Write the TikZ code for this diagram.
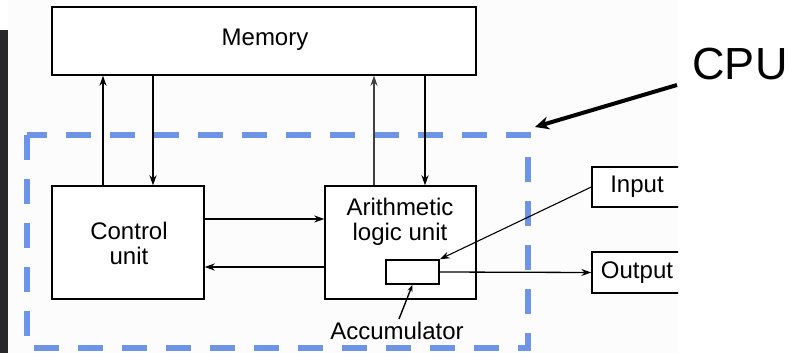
\documentclass[tikz,border=0pt]{standalone}
\usepackage{fontspec}
\setmainfont{Liberation Sans}
\usetikzlibrary{arrows.meta}
\definecolor{cpublue}{RGB}{110,148,232}
\definecolor{scanbg}{RGB}{252,252,252}
\definecolor{strip}{RGB}{40,40,42}
\begin{document}
\begin{tikzpicture}[x=1pt,y=-1pt,
  blk/.style={draw=black,line width=1.4pt,inner sep=0pt,fill=white},
  lbl/.style={font=\fontsize{24}{25}\selectfont,align=center,inner sep=0pt},
  conn/.style={line width=1.3pt,-{Stealth[length=10pt,width=7pt]}},
  cpubox/.style={draw=cpublue,line width=6pt,dash pattern=on 25pt off 19pt}
]
\useasboundingbox (0,0) rectangle (804,353);
\fill[white] (0,0) rectangle (804,353);
\fill[scanbg] (8,0) rectangle (678,353);
\fill[strip] (0,30) rectangle (8,353);

% boxes
\node[blk,minimum width=424pt,minimum height=68pt] (mem) at (264,41) {};
\node[lbl] (memtxt) at (265,40) {Memory};
\node[blk,minimum width=152pt,minimum height=113pt] (cu) at (128,242.5) {};
\node[lbl] (cutxt) at (129,243) {Control\\unit};
\node[blk,minimum width=151pt,minimum height=113pt] (alu) at (400.5,242.5) {};
\node[lbl] (alutxt) at (400,222) {Arithmetic\\logic unit};
\node[blk,minimum width=53pt,minimum height=24pt] (acc) at (412.5,272) {};
\node[lbl] (acctxt) at (397,331) {Accumulator};

\begin{scope}
\clip (0,0) rectangle (678,353);
\node[blk,minimum width=92pt,minimum height=40pt] (in) at (638,187) {};
\node[lbl] (intxt) at (637,187) {Input};
\node[blk,minimum width=92pt,minimum height=41pt] (out) at (638,272.5) {};
\node[lbl] (outtxt) at (637,273) {Output};
\end{scope}

% CPU dashed boundary
\coordinate (c1) at (27,135);
\coordinate (c2) at (528,348);
\draw[cpubox] (c1) rectangle (c2);

% connectors
\draw[conn] (cu.north -| 103,0) -- (mem.south -| 103,0);
\draw[conn] (mem.south -| 153,0) -- (cu.north -| 153,0);
\draw[conn,line width=1.1pt,draw=black!75] (alu.north -| 374,0) -- (mem.south -| 374,0);
\draw[conn] (mem.south -| 425,0) -- (alu.north -| 425,0);
\draw[conn] (cu.east |- 0,219) -- (alu.west |- 0,219);
\draw[conn] (alu.west |- 0,267) -- (cu.east |- 0,267);
\draw[conn,line width=1.1pt] (in.west) -- (acc.north east);
\draw[conn] (acc.east) -- (out.west);
\draw[line width=1.4pt,-{Stealth[length=7pt,width=5pt]}] (acctxt.north) ++(2,-3) coordinate (ptr) -- (acc.south);

% CPU label
\node[font=\fontsize{45}{50}\selectfont,inner sep=0pt] (cpu) at (740,64) {CPU};
\coordinate (cputip) at (535,127);
\draw[line width=4pt,-{Stealth[length=14pt,width=13pt]}] (677,85) -- (cputip);
\end{tikzpicture}
\end{document}
